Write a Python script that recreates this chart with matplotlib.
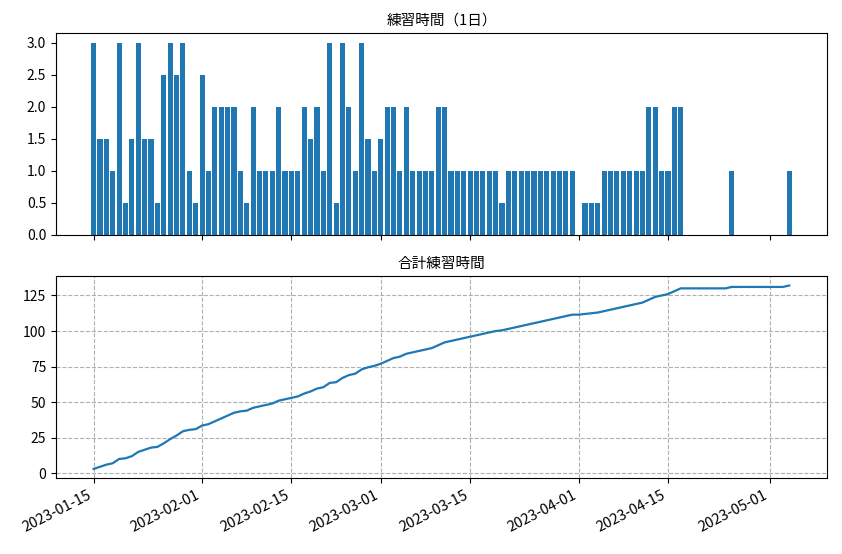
import matplotlib
matplotlib.use('Agg')
import matplotlib.pyplot as plt
import matplotlib.dates as mdates
import numpy as np
import pandas as pd

plt.rcParams['font.family'] = ['Noto Sans CJK JP', 'DejaVu Sans']

# 1日ごとの練習時間 (2023-01-15 から)
start_date = '2023-01-15'
hours = [
    3, 1.5, 1.5, 1, 3, 0.5, 1.5, 3, 1.5, 1.5,
    0.5, 2.5, 3, 2.5, 3, 1, 0.5, 2.5, 1, 2,
    2, 2, 2, 1, 0.5, 2, 1, 1, 1, 2,
    1, 1, 1, 2, 1.5, 2, 1, 3, 0.5, 3,
    2, 1, 3, 1.5, 1, 1.5, 2, 2, 1, 2,
    1, 1, 1, 1, 2, 2, 1, 1, 1, 1,
    1, 1, 1, 1, 0.5, 1, 1, 1, 1, 1,
    1, 1, 1, 1, 1, 1, 0, 0.5, 0.5, 0.5,
    1, 1, 1, 1, 1, 1, 1, 2, 2, 1,
    1, 2, 2, 0, 0, 0, 0, 0, 0, 0,
    1, 0, 0, 0, 0, 0, 0, 0, 0, 1,
]

dates = pd.date_range(start_date, periods=len(hours), freq='D')
total = np.cumsum(hours)

fig, (ax1, ax2) = plt.subplots(2, 1, sharex=True, figsize=(8.42, 5.54), dpi=100)
fig.subplots_adjust(left=0.0665, right=0.982, top=0.940, bottom=0.137, hspace=0.205)

ax1.bar(dates, hours, width=0.8, color='#1f77b4')
ax1.set_title('練習時間（1日）', fontsize=10.5)

ax2.plot(dates, total, color='#1f77b4', linewidth=1.6)
ax2.set_title('合計練習時間', fontsize=10.5)
ax2.grid(True, linestyle='--', color='#b0b0b0', linewidth=0.8)

ax2.xaxis.set_major_locator(mdates.DayLocator(bymonthday=[1, 15]))
ax2.xaxis.set_major_formatter(mdates.DateFormatter('%Y-%m-%d'))

for ax in (ax1, ax2):
    ax.tick_params(axis='y', labelsize=10)
ax2.tick_params(axis='x', labelsize=10.5)
for lbl in ax2.get_xticklabels():
    lbl.set_rotation(27)
    lbl.set_ha('right')

fig.savefig('out.png', dpi=100)
